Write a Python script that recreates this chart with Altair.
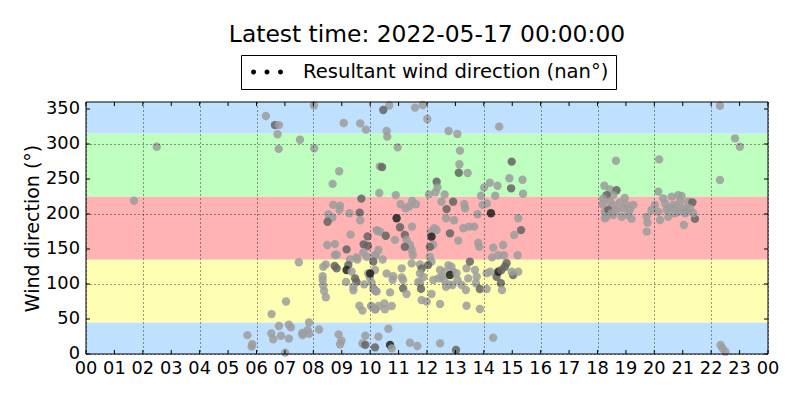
import altair as alt
import pandas as pd

# ---- data (hour of day, direction in degrees, shade) ----
hours = [
    1.69, 2.49,
    5.68, 5.85, 5.83, 6.53, 6.52, 6.59, 6.86, 6.79, 7.14, 7.21, 7.14, 7.04, 7.01, 7.49, 7.61, 7.80, 7.85, 7.62, 7.85, 8.20, 8.89, 8.99, 8.94, 9.83, 9.73, 9.83, 10.17,
    8.02, 6.33, 6.65, 6.79, 6.74, 7.53, 6.78, 8.03, 9.07, 9.65, 9.85, 8.91, 8.68, 10.34, 10.32, 9.69, 8.70, 8.94, 8.92, 8.53, 8.67, 8.50, 9.27, 9.63, 9.65,
    9.31, 9.91, 10.26, 8.49, 8.76, 9.17, 9.77, 9.92, 8.76, 8.82, 9.52, 9.76, 9.88, 10.19, 9.29, 9.55, 8.44, 8.35, 8.75, 8.82, 9.23, 9.17, 9.35, 9.47, 9.52, 9.41, 9.41, 9.15, 8.33, 8.33, 8.35, 8.38, 8.44, 9.79, 9.93, 9.99, 10.05, 10.13, 10.19, 9.62, 9.73, 10.05, 10.19,
    10.67, 10.46, 11.58, 11.85, 12.01, 10.58, 10.60, 12.76, 13.07, 14.54, 10.97, 13.16, 10.42, 13.14, 13.12, 13.43, 14.98, 12.34, 12.37, 12.30, 12.62, 12.07, 14.01, 14.21, 14.48, 13.90, 14.40, 14.90, 15.36, 14.96, 15.38, 10.90, 11.07, 11.25, 11.37, 11.61, 11.48, 12.51, 12.69, 12.92, 13.31, 13.34, 14.10, 13.96, 14.25, 13.78, 12.67, 12.95, 15.21, 10.93,
    10.23, 10.35, 10.55, 10.87, 11.05, 11.47, 11.22, 11.28, 11.40, 11.46, 11.22, 12.13, 12.26, 12.34, 12.16, 12.22, 12.10, 12.81, 13.10, 13.28, 13.48, 13.66, 13.80, 13.84, 14.33, 14.68, 14.51, 14.71, 14.29, 15.07, 15.31, 15.19,
    10.17, 10.29, 10.44, 10.11, 10.17, 10.00, 10.58, 10.81, 10.79, 11.11, 11.11, 11.16, 11.16, 11.28, 11.75, 11.81, 11.75, 11.87, 11.69, 11.75, 11.79, 11.46, 11.50, 12.10, 12.16, 12.04, 12.22, 12.40, 12.51, 12.60, 12.46, 12.63, 12.75, 12.86, 12.92, 12.81, 13.04, 12.77, 12.90, 12.67, 13.07, 13.22, 13.39, 13.51, 13.69, 13.75, 13.72, 13.45, 13.37, 13.86, 14.10, 14.10, 14.22, 14.45, 14.51, 14.62, 14.80, 14.74, 14.60, 14.64, 15.03, 15.21, 14.98,
    11.81, 11.99, 12.46, 12.16, 13.39, 13.86, 10.70, 10.23, 10.11, 10.50, 10.29, 10.52, 10.76, 10.17, 10.03, 10.64, 10.29, 10.70, 10.76, 11.40, 11.66, 12.46, 13.02, 14.33,
    22.31, 22.84, 23.01, 22.31, 18.65, 20.17, 20.14,
    18.24, 18.44, 18.67, 18.55, 18.32, 18.20, 18.96, 18.44, 18.79, 18.18, 18.55, 19.02, 19.26, 18.26, 18.38, 18.67, 18.90, 19.14, 18.32, 18.55, 18.85, 19.08, 19.20, 18.26, 18.50,
    19.73, 19.76, 19.73, 19.90, 20.02, 20.20, 20.14, 20.31, 20.38, 20.43, 20.49, 20.61, 20.67, 20.72, 20.84, 20.96, 20.90, 21.02, 21.08, 21.13, 21.04, 21.19, 21.34, 21.25, 21.43, 21.37, 20.84, 20.55, 20.78,
    22.33, 22.40, 22.50,
]
dirs = [
    219, 296,
    27, 14, 10.5, 57, 29.5, 21, 26, 40, 42, 38, 22, 75, 2, 131, 30, 34, 29, 27, 45, 35, 28, 19, 14, 26, 15, 13, 9.5,
    355, 340, 327, 327, 314, 306, 293, 294, 330, 329.5, 320.5, 261, 243, 268, 230, 222, 213, 212, 206, 199.5, 195, 189, 201, 202, 191,
    170.5, 168, 175.7, 155.7, 157, 149.5, 156.7, 154.3, 141.4, 141.9, 138, 145, 139, 141, 135, 135, 128, 124.7, 125.7, 122.4, 127, 120, 117.6, 108, 103, 96, 91, 103, 111, 105.7, 98, 90, 81, 99.5, 115, 109, 102, 93, 89.5, 69, 62, 68, 64,
    355, 348.6, 352, 355.7, 335.7, 318.6, 310.5, 318.6, 314.3, 324.8, 295.2, 290.5, 267, 271, 259, 258.6, 274.8, 246, 238, 231, 228, 228, 238, 244.7, 240.4, 226, 226, 251, 249, 236.7, 229, 227, 214, 208, 211, 214, 218.6, 217.6, 207, 217.6, 214, 208, 215, 213, 201, 199.6, 194, 191, 194, 194,
    177, 174.7, 169, 163, 181, 182, 170, 163, 156, 149, 153, 174.7, 179.6, 177, 167.6, 156, 153, 172.4, 162, 179.6, 182, 182, 159, 153, 151.9, 155.7, 141, 141, 138, 170, 177, 141,
    141, 148.6, 135, 132, 120, 115, 115, 111, 106, 122.4, 109.5, 105.7, 93.8, 85.7, 128, 122, 115, 110, 103, 101, 93, 129.5, 141.4, 139, 132, 127, 105.7, 108, 110, 105.7, 120, 117.6, 127, 124.7, 117.6, 112.9, 115.3, 99.5, 98.6, 96, 105.7, 98.6, 122.4, 132, 120, 110.4, 101, 108, 91.4, 92.9, 92.9, 115.3, 117.6, 110.4, 117.6, 120, 129.6, 124.7, 101, 91.4, 112.9, 117.6, 117.6,
    77, 74.8, 71.4, 85.7, 69, 64.3, 88, 89.5, 93, 72.4, 68.6, 63.8, 68.6, 63.8, 68.6, 36, 24.8, 12.9, 8, 16, 11.4, 15.2, 5.7, 23.3,
    354.7, 308, 296, 248.6, 276, 278, 232,
    240.4, 235, 234, 227, 227, 222, 223, 217.6, 216.7, 214, 213, 213, 213, 203, 205.7, 205.7, 208, 205.7, 196, 198.6, 196, 198.6, 193, 194, 201,
    196, 187.6, 174.8, 205.7, 213, 191.4, 203, 222.4, 215, 205.7, 196, 224.8, 213, 201, 227, 225.7, 217.6, 208, 201, 205.7, 184.3, 217.6, 216.7, 208, 193, 201, 203, 208, 210,
    12.9, 8, 3.3,
]
shades = (
    "ll"
    "lllllllllllllllllllllllllddl"
    "ldlllllllllllldllllldldll"
    "dllldddlllllllllldddklddlllllllllllldlll"
    "llldlllllllllldldlddllllllllllldllllllllddllllkll"
    "llklldldldllldlllklddllllllllll"
    "lldlllldlklllllldlldlllldlllldlllllllllkllllllldllllldllldkddddldl"
    "llllllllllllllllllklllldll"
    "lllllll"
    "ldldllllllllldllllllllllll"
    "lllllllllllllllllllldldllllllldlll"
    "lll"
)

band_lo = [0, 45, 135, 225, 315]
band_hi = [45, 135, 225, 315, 360]
band_colors = ["#bfe0ff", "#ffffb3", "#ffb3b3", "#bfffbf", "#bfe0ff"]
shade_colors = {"l": "#9c9c9c", "d": "#646464", "k": "#202020"}

x_ticks = list(range(25))
x_tick_labels = ["00", "01", "02", "03", "04", "05", "06", "07", "08", "09", "10", "11",
                 "12", "13", "14", "15", "16", "17", "18", "19", "20", "21", "22", "23", "00"]
y_ticks = [0, 50, 100, 150, 200, 250, 300, 350]
y_tick_labels = ["0", "50", "100", "150", "200", "250", "300", "350"]
legend_label = "Resultant wind direction (nan°)"
title_text = "Latest time: 2022-05-17 00:00:00"

n = min(len(hours), len(dirs))
sh = (shades + "l" * n)[:n]
pts = pd.DataFrame({"hour": hours[:n], "dir": dirs[:n],
                    "fill": [shade_colors[s] for s in sh]})
bands = pd.DataFrame({"lo": band_lo, "hi": band_hi, "col": band_colors})
xt = pd.DataFrame({"t": x_ticks, "lab": x_tick_labels})
yt = pd.DataFrame({"t": y_ticks, "lab": y_tick_labels})

W, H = 682, 252
FONT = "DejaVu Sans"
LBL = 17.8
xs = alt.Scale(domain=[0, 24], nice=False, zero=False)
ys = alt.Scale(domain=[0, 360], nice=False, zero=False)
xaxis = alt.Axis(values=x_ticks, title=None, zindex=1, labels=False)
yaxis = alt.Axis(values=y_ticks, title="Wind direction (°)", zindex=1, labels=False)

band_layer = alt.Chart(bands).mark_rect().encode(
    x=alt.datum(0), x2=alt.datum(24),
    y=alt.Y("lo:Q", scale=ys, axis=yaxis), y2="hi:Q",
    fill=alt.Fill("col:N", scale=None),
)

point_layer = alt.Chart(pts).mark_circle(size=70, opacity=0.85).encode(
    x=alt.X("hour:Q", scale=xs, axis=xaxis),
    y=alt.Y("dir:Q", scale=ys, axis=yaxis),
    fill=alt.Fill("fill:N", scale=None),
)

r = 0.25
dots_path = "".join(
    f"M{c - r},0A{r},{r},0,1,1,{c + r},0A{r},{r},0,1,1,{c - r},0Z" for c in (-1.35, 0, 1.35)
)

legend_layer = alt.Chart(pd.DataFrame({"series": [legend_label]})).mark_point(
    filled=True, clip=True, opacity=1
).encode(
    x=alt.value(-200), y=alt.value(-200),
    color=alt.Color("series:N", scale=alt.Scale(range=["black"]),
                    legend=alt.Legend(title=None, orient="none", legendX=155, legendY=-47,
                                      symbolType=dots_path, symbolSize=400, symbolOffset=9,
                                      symbolStrokeWidth=0, symbolOpacity=1,
                                      labelOffset=26, labelFontSize=19.6, labelFont=FONT,
                                      labelColor="black", labelLimit=0, padding=7,
                                      strokeColor="black", fillColor="white")),
)

# tick labels
xlab_layer = alt.Chart(xt).mark_text(
    font=FONT, fontSize=LBL, color="black", align="center", baseline="top"
).encode(x=alt.X("t:Q", scale=xs, axis=xaxis), y=alt.value(H + 6), text="lab:N")
ylab_layer = alt.Chart(yt).mark_text(
    font=FONT, fontSize=LBL, color="black", align="right", baseline="middle"
).encode(y=alt.Y("t:Q", scale=ys, axis=yaxis), x=alt.value(-6), text="lab:N")

# inward tick marks on all four sides
tick_style = dict(color="black", strokeWidth=1)
xtick_bottom = alt.Chart(xt).mark_rule(**tick_style).encode(
    x=alt.X("t:Q", scale=xs, axis=xaxis), y=alt.value(H), y2=alt.value(H - 4))
xtick_top = alt.Chart(xt).mark_rule(**tick_style).encode(
    x=alt.X("t:Q", scale=xs, axis=xaxis), y=alt.value(0), y2=alt.value(4))
ytick_left = alt.Chart(yt).mark_rule(**tick_style).encode(
    y=alt.Y("t:Q", scale=ys, axis=yaxis), x=alt.value(0), x2=alt.value(4))
ytick_right = alt.Chart(yt).mark_rule(**tick_style).encode(
    y=alt.Y("t:Q", scale=ys, axis=yaxis), x=alt.value(W), x2=alt.value(W - 4))

frame_layer = alt.Chart(pd.DataFrame({"a": [0]})).mark_rect(
    fillOpacity=0, stroke="black", strokeWidth=1
).encode(x=alt.datum(0), x2=alt.datum(24), y=alt.datum(0), y2=alt.datum(360))

chart = alt.layer(
    band_layer, point_layer, legend_layer, xlab_layer, ylab_layer,
    xtick_bottom, xtick_top, ytick_left, ytick_right, frame_layer
).properties(
    width=W, height=H,
    autosize="none",
    padding={"left": 78, "top": 94, "right": 24, "bottom": 36},
    title=alt.TitleParams(title_text, font=FONT, fontSize=23.4, fontWeight="normal",
                          color="black", anchor="middle", offset=7),
).configure_axis(
    grid=True, gridColor="black", gridDash=[1, 3], gridWidth=0.8, gridOpacity=1,
    domain=False, ticks=False, tickSize=0, labels=False,
    titleFont=FONT, titleFontSize=19, titleFontWeight="normal", titleColor="black",
    titlePadding=44,
).configure_view(strokeWidth=0)

chart.save("out.html", embed_options={"renderer": "svg", "actions": False})
